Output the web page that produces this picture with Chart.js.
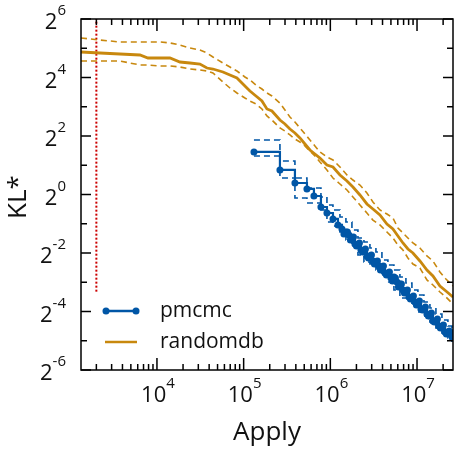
<!DOCTYPE html>
<html>
<head>
<meta charset="utf-8">
<script src="https://cdn.jsdelivr.net/npm/chart.js@4.4.0/dist/chart.umd.min.js"></script>
<style>
html, body { margin: 0; padding: 0; background: #fff; }
canvas { display: block; }
</style>
</head>
<body>
<canvas id="chart" width="458" height="458"></canvas>
<script>
// randomdb: median and bounds (same x grid)
const randomdbX = [1330, 2201, 3742, 6365, 7874, 10830, 14120, 18420, 24020, 31330, 37730, 44240, 57700, 69500, 83700,
  103500, 118200, 138700, 162600, 185700, 212000, 262200, 299500, 342000, 390500, 446000, 509300, 581700, 664400, 758600,
  913800, 1072000, 1291000, 1555000, 1823000, 2195000, 2643000, 3099000, 3734000, 4497000, 5272000, 6022000, 6877000,
  7852000, 8968000, 10800000, 13010000, 15260000, 18370000, 21540000, 25950000];
const randomdbY = [29.29, 28.60, 27.92, 27.28, 25.40, 25.40, 25.40, 23.10, 22.56, 22.03, 20.03, 19.57, 18.24, 16.98, 15.81,
  13.09, 11.62, 10.32, 9.17, 7.59, 7.24, 5.84, 5.32, 4.72, 4.30, 3.82, 3.31, 2.87, 2.61, 2.37,
  2.01, 1.92, 1.588, 1.377, 1.194, 0.988, 0.799, 0.709, 0.615, 0.497, 0.442, 0.374, 0.317,
  0.275, 0.25, 0.2069, 0.1671, 0.1450, 0.1144, 0.1016, 0.0881];
const randomdbHi = [40.78, 38.92, 37.12, 37.12, 37.12, 37.12, 36.26, 34.57, 32.19, 30.69, 28.60, 26.02, 22.56, 20.51, 18.67,
  16.19, 15.08, 13.40, 12.18, 11.08, 10.32, 8.74, 7.41, 6.28, 5.57, 4.84, 4.20, 3.64, 3.16, 2.74,
  2.43, 2.27, 1.92, 1.588, 1.410, 1.252, 1.036, 0.838, 0.693, 0.630, 0.573, 0.452, 0.402,
  0.357, 0.317, 0.2815, 0.2329, 0.2069, 0.1593, 0.1350, 0.1144];
const randomdbLo = [23.66, 23.66, 23.66, 21.52, 21.52, 21.02, 21.02, 20.51, 19.57, 19.11, 18.67, 17.81, 14.38, 12.48, 11.08,
  9.84, 9.17, 8.54, 7.59, 6.43, 5.84, 4.84, 4.50, 4.10, 3.73, 3.47, 3.16, 2.80, 2.49, 2.16,
  1.79, 1.479, 1.282, 1.113, 0.943, 0.780, 0.645, 0.546, 0.486, 0.411, 0.357, 0.302, 0.2685,
  0.2221, 0.1926, 0.1752, 0.1319, 0.1171, 0.0992, 0.0881, 0.0746];

// pmcmc: median with markers
const pmcmcX = [131500, 262200, 390500, 537200, 646700, 779100, 913800, 1072000, 1224000, 1361000,
  1435000, 1513000, 1575000, 1639000, 1705000, 1775000, 1847000, 1922000, 2000000, 2082000,
  2166000, 2254000, 2346000, 2441000, 2540000, 2643000, 2751000, 2863000, 2979000, 3099000,
  3226000, 3357000, 3494000, 3635000, 3784000, 3937000, 4097000, 4264000, 4437000, 4617000,
  4805000, 5000000, 5204000, 5414000, 5635000, 5863000, 6102000, 6349000, 6607000, 6877000,
  7155000, 7445000, 7748000, 8063000, 8391000, 8732000, 9086000, 9456000, 9840000, 10240000,
  10660000, 11090000, 11540000, 12010000, 12500000, 13010000, 13530000, 14090000, 14660000, 15260000,
  15870000, 16520000, 17190000, 17890000, 18610000, 19380000, 20160000, 20980000, 21830000, 22720000,
  23640000, 25270000];
const pmcmcY = [2.74, 1.79, 1.314, 1.140, 0.965, 0.744, 0.645, 0.560, 0.486, 0.442,
  0.392, 0.411, 0.411, 0.383, 0.340, 0.357, 0.365, 0.3095, 0.295, 0.302,
  0.317, 0.2685, 0.256, 0.2622, 0.275, 0.2329, 0.2221, 0.2329, 0.2385, 0.2069,
  0.1926, 0.2020, 0.2069, 0.1838, 0.1671, 0.1794, 0.1838, 0.1556, 0.1485, 0.1556,
  0.1593, 0.1383, 0.1288, 0.1416, 0.1383, 0.1257, 0.1117, 0.1199, 0.1199, 0.1041,
  0.0969, 0.1016, 0.1041, 0.0881, 0.0841, 0.0861, 0.0903, 0.0783, 0.0729, 0.0746,
  0.0801, 0.0663, 0.0648, 0.0663, 0.0696, 0.0589, 0.0562, 0.0562, 0.0603, 0.0499,
  0.0487, 0.0499, 0.0523, 0.0443, 0.0423, 0.0433, 0.0454, 0.0384, 0.0367, 0.0384,
  0.0394, 0.0342];

// pmcmc bounds
const pmcmcBandX = [131500, 262200, 390500, 537200, 779100, 913800, 1072000, 1291000, 1513000, 1775000, 2082000,
  2441000, 2863000, 3357000, 3937000, 4617000, 5414000, 6349000, 7445000, 8732000, 10240000, 12010000, 14090000,
  16520000, 19380000, 22720000, 25270000];
const pmcmcHi = [3.64, 2.21, 1.479, 1.167, 0.943, 0.780, 0.693, 0.587, 0.521, 0.431, 0.357,
  0.3245, 0.2815, 0.256, 0.2119, 0.1881, 0.1671, 0.1416, 0.1228, 0.1041, 0.0924, 0.0783, 0.0679,
  0.0589, 0.0511, 0.0443, 0.0403];
const pmcmcLo = [2.49, 1.479, 0.920, 0.818, 0.693, 0.521, 0.474, 0.411, 0.340, 0.302, 0.2385,
  0.2020, 0.1926, 0.1671, 0.1450, 0.1257, 0.1041, 0.0861, 0.0861, 0.0729, 0.0618, 0.0562, 0.0487,
  0.0423, 0.0376, 0.0334, 0.0303];

// vertical marker
const markerX = [2000, 2000];
const markerY = [0.1, 64];

// axes
const xMin = 1330, xMax = 2.6e7;
const yMin = 1 / 64, yMax = 64;
const xMajor = [1e4, 1e5, 1e6, 1e7];
const xExp = ["4", "5", "6", "7"];
const yMajor = [64, 16, 4, 1, 0.25, 0.0625, 0.015625];
const yExp = ["6", "4", "2", "0", "-2", "-4", "-6"];
const yMinor = [32, 8, 2, 0.5, 0.125, 0.03125];
const seriesNames = ["pmcmc", "randomdb"];

const BLUE = "#0056a6";
const ORANGE = "#c8880e";
const FONT = "'Open Sans', 'DejaVu Sans', sans-serif";

const xMinor = [];
[1e3, 1e4, 1e5, 1e6, 1e7].forEach(d => {
  for (let k = 2; k <= 9; k++) {
    const v = k * d;
    if (v > xMin && v < xMax) xMinor.push(v);
  }
});

function pts(xs, ys) {
  return xs.map((v, i) => ({ x: v, y: ys[i] }));
}

const frame = {
  id: "frame",
  afterDraw(chart) {
    const { ctx, chartArea: a, scales: { x, y } } = chart;
    ctx.save();
    ctx.strokeStyle = "#000";
    ctx.lineWidth = 1.5;
    ctx.strokeRect(a.left, a.top, a.right - a.left, a.bottom - a.top);
    const seg = (x1, y1, x2, y2) => { ctx.beginPath(); ctx.moveTo(x1, y1); ctx.lineTo(x2, y2); ctx.stroke(); };

    xMajor.forEach(v => { const p = x.getPixelForValue(v); seg(p, a.bottom, p, a.bottom - 12); seg(p, a.top, p, a.top + 12); });
    xMinor.forEach(v => { const p = x.getPixelForValue(v); seg(p, a.bottom, p, a.bottom - 6); seg(p, a.top, p, a.top + 6); });
    yMajor.forEach(v => { const p = y.getPixelForValue(v); seg(a.left, p, a.left + 10, p); seg(a.right, p, a.right - 10, p); });
    yMinor.forEach(v => { const p = y.getPixelForValue(v); seg(a.left, p, a.left + 6, p); seg(a.right, p, a.right - 6, p); });

    ctx.fillStyle = "#111";
    ctx.textBaseline = "alphabetic";
    ctx.textAlign = "left";
    const big = "22px " + FONT, small = "15px " + FONT;

    // x tick labels 10^n
    xMajor.forEach((v, i) => {
      const p = x.getPixelForValue(v);
      ctx.font = big; const wb = ctx.measureText("10").width;
      ctx.font = small; const ws = ctx.measureText(xExp[i]).width;
      const x0 = p - (wb + ws) / 2 + 1;
      ctx.font = big; ctx.fillText("10", x0, a.bottom + 32);
      ctx.font = small; ctx.fillText(xExp[i], x0 + wb, a.bottom + 18);
    });

    // y tick labels 2^n
    yMajor.forEach((v, i) => {
      const p = y.getPixelForValue(v);
      ctx.font = big; const wb = ctx.measureText("2").width;
      ctx.font = small; const ws = ctx.measureText(yExp[i]).width;
      const x0 = a.left - 15 - ws - wb;
      ctx.font = big; ctx.fillText("2", x0, p + 10);
      ctx.font = small; ctx.fillText(yExp[i], x0 + wb, p - 4);
    });

    // axis titles
    ctx.font = "26px " + FONT;
    ctx.textAlign = "center";
    ctx.fillText("Apply", (a.left + a.right) / 2, 440);
    ctx.save();
    ctx.translate(26, 197);
    ctx.rotate(-Math.PI / 2);
    ctx.fillText("KL*", 0, 0);
    ctx.restore();

    // legend
    const lx = a.left + 24, ly = a.bottom - 59;
    ctx.lineWidth = 2.5;
    ctx.strokeStyle = BLUE;
    seg(lx, ly, lx + 32, ly);
    ctx.fillStyle = BLUE;
    [lx + 1, lx + 31].forEach(cx => { ctx.beginPath(); ctx.arc(cx, ly, 3.5, 0, Math.PI * 2); ctx.fill(); });
    ctx.strokeStyle = ORANGE;
    seg(lx, ly + 31, lx + 32, ly + 31);
    ctx.fillStyle = "#111";
    ctx.font = "21px " + FONT;
    ctx.textAlign = "left";
    ctx.fillText(seriesNames[0], lx + 55, ly + 6);
    ctx.fillText(seriesNames[1], lx + 55, ly + 37);
    ctx.restore();
  }
};

const dashed = { borderDash: [6, 4], borderWidth: 1.6, pointRadius: 0, tension: 0 };

new Chart(document.getElementById("chart"), {
  type: "line",
  data: {
    datasets: [
      Object.assign({ data: pts(randomdbX, randomdbHi), borderColor: ORANGE }, dashed),
      Object.assign({ data: pts(randomdbX, randomdbLo), borderColor: ORANGE }, dashed),
      { data: pts(randomdbX, randomdbY), borderColor: ORANGE, borderWidth: 2.8, pointRadius: 0, tension: 0 },
      Object.assign({ data: pts(pmcmcBandX, pmcmcHi), borderColor: BLUE, stepped: true }, dashed),
      Object.assign({ data: pts(pmcmcBandX, pmcmcLo), borderColor: BLUE, stepped: true }, dashed),
      {
        data: pts(pmcmcX, pmcmcY), borderColor: BLUE, borderWidth: 2.2, stepped: true,
        pointRadius: 3.5, pointBackgroundColor: BLUE, pointBorderWidth: 0
      },
      {
        data: pts(markerX, markerY), borderColor: "#cc0000", borderWidth: 2, borderDash: [2, 2],
        pointRadius: 0
      }
    ]
  },
  options: {
    responsive: false,
    animation: false,
    devicePixelRatio: 1,
    layout: { padding: { left: 81, right: 5, top: 19, bottom: 88 } },
    plugins: { legend: { display: false }, tooltip: { enabled: false } },
    scales: {
      x: { type: "logarithmic", min: xMin, max: xMax, display: false },
      y: { type: "logarithmic", min: yMin, max: yMax, display: false }
    }
  },
  plugins: [frame]
});
</script>
</body>
</html>
